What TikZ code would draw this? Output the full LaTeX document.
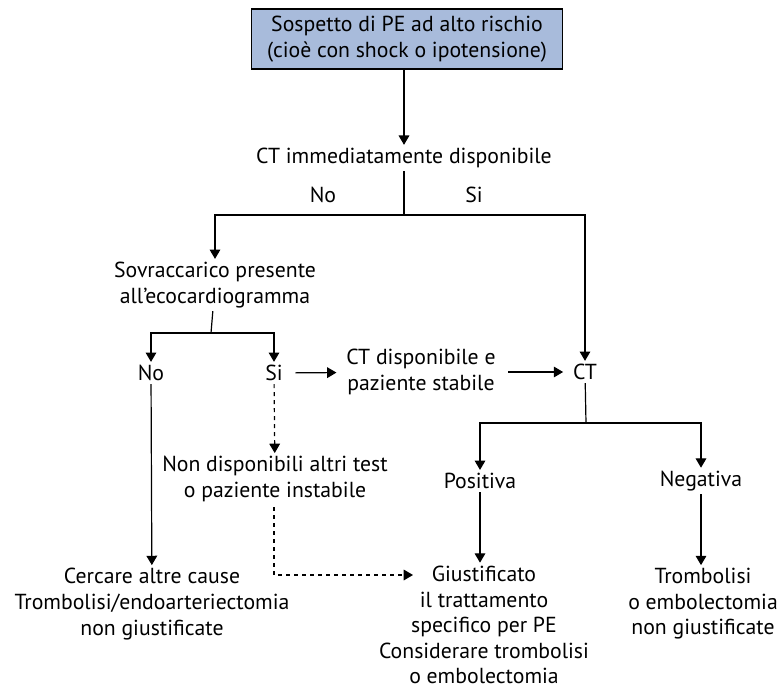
\documentclass[tikz,border=0pt]{standalone}
\usepackage{fontspec}
\setmainfont{PT Sans}
\usetikzlibrary{arrows.meta}

\definecolor{boxblue}{RGB}{168,187,219}

\begin{document}
\begin{tikzpicture}[
x=0.75pt, y=-0.75pt,
every node/.style={
align=center,
inner sep=2pt,
font=\fontsize{16.3}{19.2}\selectfont
},
arr/.style={-{Triangle[width=8pt,length=7pt]}},
line width=0.9pt
]
\useasboundingbox (0,0) rectangle (778,688);

\node[draw, fill=boxblue, minimum width=233pt, minimum height=45pt] (Top) at (407,39)
{Sospetto di PE ad alto rischio\\(cioè con shock o ipotensione)};

\node (CTnow) at (404,158)
{CT immediatamente disponibile};

\node (No1) at (323,195) {No};
\node (Si1) at (474,195) {Si};

\node (Sovr) at (215,285)
{Sovraccarico presente\\all’ecocardiogramma};

\node (CT) at (585,372) {CT};

\node (No2) at (151,373) {No};
\node (Si2) at (274,373) {Si};

\node (CTstab) at (421,372)
{CT disponibile e\\paziente stabile};

\node (NonDisp) at (275,479)
{Non disponibili altri test\\o paziente instabile};

\node (Cercare) at (152,604)
{Cercare altre cause\\Trombolisi/endoarteriectomia\\non giustificate};

\node (Pos) at (480,481) {Positiva};
\node (Neg) at (701,481) {Negativa};

\node[inner ysep=0pt] (Giust) at (484,625)
{Giustificato\\il trattamento\\specifico per PE\\Considerare trombolisi\\o embolectomia};

\node (Trombo) at (703,604)
{Trombolisi\\o embolectomia\\non giustificate};

\coordinate (S1) at (404,215);
\coordinate (S2) at (211,333);
\coordinate (S3) at (586,423);
\coordinate (D1) at (274,507);
\coordinate (D2) at (413,575);

\draw[arr] (Top.south -| CTnow) -- (CTnow);
\draw (CTnow) -- (S1);
\draw[arr] (S1) -| (Sovr);
\draw[arr] (S1) -| (CT);

\draw (Sovr) -- (S2);
\draw[arr] (S2) -| (No2);
\draw[arr] (S2) -| (Si2);

\draw[arr, shorten <=7pt, shorten >=5pt] (Si2) -- (CTstab);
\draw[arr, shorten <=7pt, shorten >=5pt] (CTstab) -- (CT);

\draw[arr, dashed] (Si2) -- (NonDisp);
\draw[arr, dashed] (D1) |- (D2);

\draw[arr] (No2) -- (Cercare);

\draw (CT) -- (S3);
\draw[arr] (S3) -| (Pos);
\draw[arr] (S3) -| (Neg);

\draw[arr, shorten >=2pt] (Pos) -- (Giust.north -| Pos);
\draw[arr] (Neg) -- (Trombo.north -| Neg);

\end{tikzpicture}
\end{document}
